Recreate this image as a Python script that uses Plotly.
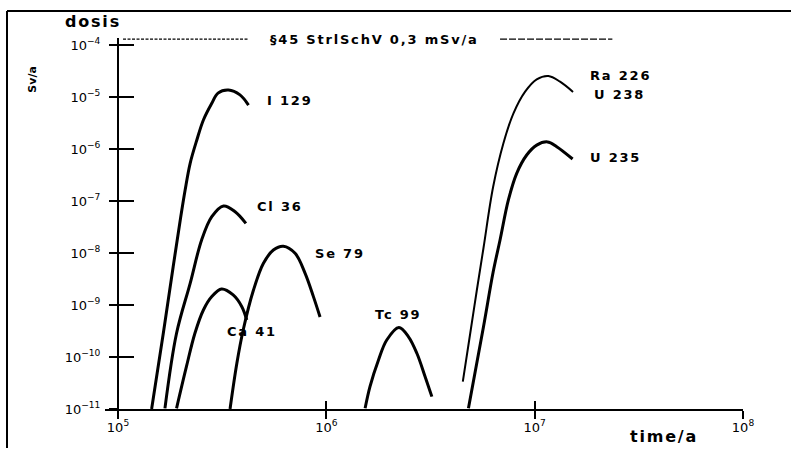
import math
import plotly.graph_objects as go

# ---- data (time in years, dose in Sv/a) ----
i129_t = [1.45e5, 1.65e5, 1.84e5, 1.99e5, 2.10e5, 2.22e5, 2.39e5, 2.57e5, 2.82e5, 3.02e5, 3.39e5, 3.85e5, 4.23e5]
i129_d = [1.0e-11, 2.86e-10, 5.46e-9, 4.32e-8, 1.63e-7, 5.31e-7, 1.49e-6, 3.61e-6, 7.57e-6, 1.19e-5, 1.36e-5, 1.10e-5, 7.0e-6]

cl36_t = [1.68e5, 1.91e5, 2.22e5, 2.52e5, 2.82e5, 3.21e5, 3.65e5, 4.11e5]
cl36_d = [1.03e-11, 2.86e-10, 2.61e-9, 1.78e-8, 4.99e-8, 8.02e-8, 6.22e-8, 3.72e-8]

ca41_t = [1.91e5, 2.13e5, 2.34e5, 2.57e5, 2.82e5, 3.14e5, 3.57e5, 3.93e5, 4.15e5]
ca41_d = [1.03e-11, 6.5e-11, 2.86e-10, 8.02e-10, 1.45e-9, 2.03e-9, 1.56e-9, 9.27e-10, 5.15e-10]

se79_t = [3.45e5, 3.72e5, 3.99e5, 4.47e5, 4.99e5, 5.57e5, 6.22e5, 7.08e5, 7.91e5, 8.67e5, 9.33e5]
se79_d = [1.0e-11, 7.57e-11, 3.30e-10, 1.94e-9, 6.34e-9, 1.14e-8, 1.35e-8, 9.86e-9, 4.07e-9, 1.45e-9, 5.87e-10]

tc99_t = [1.535e6, 1.62e6, 1.78e6, 1.95e6, 2.23e6, 2.48e6, 2.72e6, 2.98e6, 3.21e6]
tc99_d = [1.03e-11, 2.69e-11, 8.75e-11, 2.12e-10, 3.69e-10, 2.45e-10, 1.18e-10, 4.18e-11, 1.73e-11]

ra226_t = [4.52e6, 4.90e6, 5.27e6, 5.68e6, 6.32e6, 7.08e6, 7.91e6, 9.0e6, 1.023e7, 1.164e7, 1.324e7, 1.528e7]
ra226_d = [3.35e-11, 2.77e-10, 1.86e-9, 1.25e-8, 1.88e-7, 1.29e-6, 4.86e-6, 1.27e-5, 2.19e-5, 2.54e-5, 1.97e-5, 1.25e-5]

u235_t = [4.81e6, 5.68e6, 6.32e6, 6.82e6, 7.48e6, 8.20e6, 9.16e6, 1.023e7, 1.153e7, 1.276e7, 1.521e7]
u235_d = [1.03e-11, 3.83e-10, 4.31e-9, 1.78e-8, 1.05e-7, 3.41e-7, 7.67e-7, 1.19e-6, 1.37e-6, 1.11e-6, 6.43e-7]

limit_value = 1.3e-4
limit_left_t = [1.057e5, 4.21e5]
limit_right_t = [6.82e6, 2.36e7]

x_tickvals = [1e5, 1e6, 1e7, 1e8]
x_ticktext = ["10<sup>5</sup>", "10<sup>6</sup>", "10<sup>7</sup>", "10<sup>8</sup>"]
y_tickvals = [1e-4, 1e-5, 1e-6, 1e-7, 1e-8, 1e-9, 1e-10, 1e-11]
y_ticktext = ["10<sup>−4</sup>", "10<sup>−5</sup>", "10<sup>−6</sup>", "10<sup>−7</sup>",
              "10<sup>−8</sup>", "10<sup>−9</sup>", "10<sup>−10</sup>", "10<sup>−11</sup>"]

labels = ["I 129", "Cl 36", "Se 79", "Ca 41", "Tc 99", "Ra 226", "U 238", "U 235"]
label_t = [5.08e5, 4.55e5, 8.63e5, 3.27e5, 1.675e6, 1.80e7, 1.89e7, 1.80e7]
label_d = [8.75e-6, 8.0e-8, 1.0e-8, 3.16e-10, 6.7e-10, 2.65e-5, 1.14e-5, 7.0e-7]
limit_text = "§45 StrlSchV 0,3 mSv/a"
limit_text_t = 1.71e6

BLACK = "#000000"
fig = go.Figure()

series = [
    (i129_t, i129_d, 3), (cl36_t, cl36_d, 3), (ca41_t, ca41_d, 3),
    (se79_t, se79_d, 3), (tc99_t, tc99_d, 3), (ra226_t, ra226_d, 2),
    (u235_t, u235_d, 3),
]
for t, d, w in series:
    fig.add_trace(go.Scatter(x=t, y=d, mode="lines", line=dict(color=BLACK, width=w, shape="spline", smoothing=1.0),
                             showlegend=False, hoverinfo="skip"))

fig.add_trace(go.Scatter(x=limit_left_t, y=[limit_value] * 2, mode="lines",
                         line=dict(color=BLACK, width=1.2, dash="3px,1.5px"), showlegend=False, hoverinfo="skip"))
fig.add_trace(go.Scatter(x=limit_right_t, y=[limit_value] * 2, mode="lines",
                         line=dict(color=BLACK, width=1.2, dash="7px,2px"), showlegend=False, hoverinfo="skip"))


def wide(txt):
    return '<span style="letter-spacing:1.8px"><b>' + txt + '</b></span>'


LBL_FONT = dict(family="DejaVu Sans", size=13, color=BLACK)
for txt, t, d in zip(labels, label_t, label_d):
    fig.add_annotation(x=math.log10(t), y=math.log10(d), xref="x", yref="y", text=wide(txt),
                       showarrow=False, xanchor="left", yanchor="middle", font=LBL_FONT)
fig.add_annotation(x=math.log10(limit_text_t), y=math.log10(limit_value), xref="x", yref="y",
                   text=wide(limit_text), showarrow=False, xanchor="center", yanchor="middle",
                   font=LBL_FONT)

# frame-level texts
fig.add_annotation(x=-0.066, y=1.045, xref="paper", yref="paper", text=wide("dosis"), showarrow=False,
                   xanchor="left", yanchor="middle", font=dict(family="DejaVu Sans", size=16, color=BLACK))
fig.add_annotation(x=-0.113, y=0.89, xref="paper", yref="paper", text="<b>Sv/a</b>", showarrow=False,
                   textangle=-90, xanchor="center", yanchor="middle", font=dict(family="DejaVu Sans", size=11, color=BLACK))
fig.add_annotation(x=0.82, y=-0.075, xref="paper", yref="paper", text=wide("time/a"), showarrow=False,
                   xanchor="left", yanchor="middle", font=dict(family="DejaVu Sans", size=16, color=BLACK))

# border of the scanned figure
fig.add_shape(type="line", xref="paper", yref="paper", x0=-0.1536, x1=-0.1536, y0=-0.105, y1=1.0728,
              line=dict(color=BLACK, width=2))
fig.add_shape(type="line", xref="paper", yref="paper", x0=-0.1536, x1=1.08, y0=1.0728, y1=1.0728,
              line=dict(color=BLACK, width=2))

TICK_FONT = dict(family="DejaVu Sans", size=13, color=BLACK)
xrange = [4.9376, 8.0]
yrange = [-11, -3.865]
ypos = 0.0204

fig.update_layout(
    width=791, height=453,
    margin=dict(l=105, r=48, t=38, b=44),
    paper_bgcolor="white", plot_bgcolor="white",
    xaxis=dict(type="log", range=xrange, showgrid=False, zeroline=False, showline=True, linecolor=BLACK,
               linewidth=2, ticks="outside", ticklen=8, tickwidth=2, tickcolor=BLACK,
               tickvals=x_tickvals, ticktext=x_ticktext, tickfont=TICK_FONT, ticklabelstandoff=-3),
    xaxis2=dict(type="log", range=xrange, overlaying="x", side="bottom", showgrid=False, zeroline=False,
                ticks="inside", ticklen=8, tickwidth=2, tickcolor=BLACK, tickvals=x_tickvals,
                showticklabels=False, anchor="y"),
    yaxis=dict(type="log", range=yrange, anchor="free", position=ypos, showgrid=False, zeroline=False,
               showline=True, linecolor=BLACK, linewidth=2, ticks="outside", ticklen=8, tickwidth=2,
               tickcolor=BLACK, tickvals=y_tickvals, ticktext=y_ticktext, tickfont=TICK_FONT,
               ticklabelstandoff=6),
    yaxis2=dict(type="log", range=yrange, overlaying="y", anchor="free", position=ypos, showgrid=False,
                zeroline=False, ticks="inside", ticklen=15, tickwidth=2, tickcolor=BLACK,
                tickvals=y_tickvals, showticklabels=False),
)
# invisible trace that activates the secondary axes
fig.add_trace(go.Scatter(x=[1e6], y=[1e-8], xaxis="x2", yaxis="y2", mode="markers",
                         marker=dict(opacity=0), showlegend=False, hoverinfo="skip"))

fig.write_html("out.html", config={"displayModeBar": False},
               post_script="document.body.style.margin='0';")
